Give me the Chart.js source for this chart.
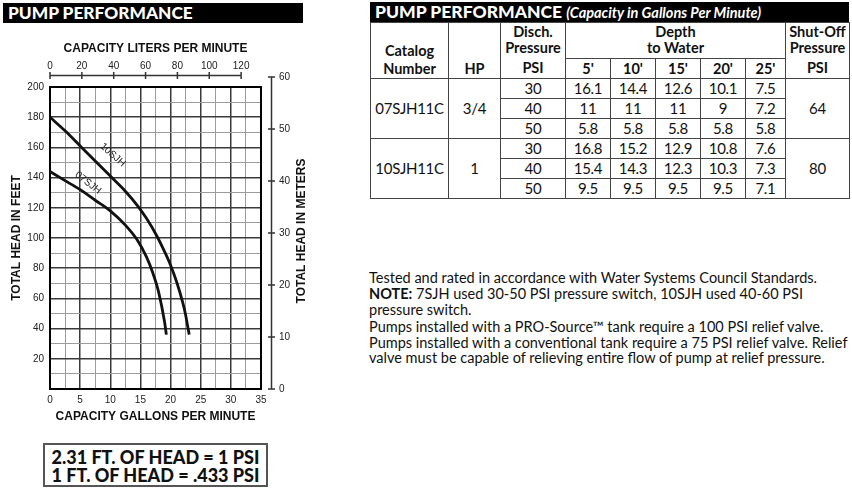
<!DOCTYPE html>
<html>
<head>
<meta charset="utf-8">
<script src="https://cdn.jsdelivr.net/npm/chart.js@4.4.1/dist/chart.umd.min.js"></script>
<style>
  body { margin: 0; width: 852px; height: 493px; background: #fff; position: relative; overflow: hidden; font-family: Lato, "Open Sans", sans-serif; color: #111; }
  .bar { position: absolute; background: #000; color: #fff; font-weight: 900; white-space: nowrap; box-sizing: border-box; }
  #bar-left { left: 3px; top: 3px; width: 300px; height: 20px; font-size: 17.3px; line-height: 20px; padding-left: 5px; }
  #bar-right { left: 370px; top: 2px; width: 479px; height: 20px; font-size: 17.5px; line-height: 20px; padding-left: 5px; }
  #bar-right i { font-size: 14.5px; font-weight: 700; }
  #chart-box { position: absolute; left: 0; top: 0; }
  #perf-table { position: absolute; left: 370px; top: 22px; width: 479px; border-collapse: collapse; table-layout: fixed; text-align: center; }
  #perf-table td { border: 1.5px solid #444; padding: 0; font-size: 15px; height: 19px; line-height: 19px; letter-spacing: -0.3px; }
  #perf-table .hd { font-weight: 700; font-size: 14.5px; vertical-align: bottom; letter-spacing: 0; }
  .notes { position: absolute; left: 369px; font-size: 14.5px; line-height: 15.5px; white-space: nowrap; }
  #conv { position: absolute; left: 43px; top: 443px; width: 225px; height: 44px; box-sizing: border-box; border: 2px solid #555; text-align: center; font-weight: 900; font-size: 18px; line-height: 18px; padding-top: 3px; white-space: nowrap; }
</style>
</head>
<body>
<div class="bar" id="bar-left">PUMP PERFORMANCE</div>
<div id="chart-box"><canvas id="perf-chart" width="310" height="430"></canvas></div>

<div class="bar" id="bar-right">PUMP PERFORMANCE <i>(Capacity in Gallons Per Minute)</i></div>
<table id="perf-table">
  <colgroup>
    <col style="width:78px"><col style="width:52px"><col style="width:65px">
    <col style="width:45px"><col style="width:45px"><col style="width:45px"><col style="width:45px"><col style="width:40px">
    <col style="width:64px">
  </colgroup>
  <thead id="perf-head"></thead>
  <tbody id="perf-body"></tbody>
</table>

<div class="notes" style="top:270px">Tested and rated in accordance with Water Systems Council Standards.</div>
<div class="notes" style="top:286px"><b>NOTE:</b> 7SJH used 30-50 PSI pressure switch, 10SJH used 40-60 PSI<br>pressure switch.</div>
<div class="notes" style="top:319px">Pumps installed with a PRO-Source™ tank require a 100 PSI relief valve.<br>Pumps installed with a conventional tank require a 75 PSI relief valve. Relief<br>valve must be capable of relieving entire flow of pump at relief pressure.</div>

<div id="conv">2.31 FT. OF HEAD = 1 PSI<br>1 FT. OF HEAD = .433 PSI</div>

<script>
// chart data
const gpmTicks = [0, 5, 10, 15, 20, 25, 30, 35];
const feetTicks = [20, 40, 60, 80, 100, 120, 140, 160, 180, 200];
const lpmTicks = [0, 20, 40, 60, 80, 100, 120];
const meterTicks = [0, 10, 20, 30, 40, 50, 60];

const flow07 = [0, 2.5, 5, 7.5, 10, 12.5, 14.5, 16, 17, 18, 19, 19.3];
const head07 = [144, 138, 132, 125, 118, 108.5, 98.5, 87.5, 77.5, 64.5, 44.5, 36];
const flow10 = [0, 2.5, 5, 7.5, 10, 12.5, 14.6, 16, 17.7, 19, 20, 21, 22, 22.5, 22.9, 23.1];
const head10 = [180, 171, 161, 151, 141, 131, 121, 113, 101.5, 91, 82, 71, 57.5, 49, 40, 36];

// table data
const catalogs = ["07SJH11C", "10SJH11C"];
const horsepower = ["3/4", "1"];
const dischPsi = [30, 40, 50];
const depths = ["5'", "10'", "15'", "20'", "25'"];
const gpm07 = [[16.1, 14.4, 12.6, 10.1, 7.5], [11, 11, 11, 9, 7.2], [5.8, 5.8, 5.8, 5.8, 5.8]];
const gpm10 = [[16.8, 15.2, 12.9, 10.8, 7.6], [15.4, 14.3, 12.3, 10.3, 7.3], [9.5, 9.5, 9.5, 9.5, 7.1]];
const shutOff = [64, 80];

// build the table
document.getElementById("perf-head").innerHTML =
  '<tr style="height:36px">' +
  '<td class="hd" rowspan="2"><div style="line-height:18px">Catalog<br>Number</div></td>' +
  '<td class="hd" rowspan="2"><div style="line-height:19px">HP</div></td>' +
  '<td class="hd" rowspan="2"><div style="line-height:16px">Disch.<br>Pressure</div><div style="line-height:20px;margin-top:2px">PSI</div></td>' +
  '<td class="hd" colspan="5"><div style="line-height:16px;padding-bottom:2px">Depth<br>to Water</div></td>' +
  '<td class="hd" rowspan="2"><div style="line-height:16px">Shut-Off<br>Pressure</div><div style="line-height:20px;margin-top:2px">PSI</div></td>' +
  '</tr><tr style="height:20px">' + depths.map(d => '<td class="hd">' + d + '</td>').join("") + '</tr>';

const groups = [gpm07, gpm10];
let rows = "";
catalogs.forEach((cat, gi) => {
  dischPsi.forEach((psi, ri) => {
    rows += '<tr style="height:20px">';
    if (ri === 0) rows += '<td rowspan="3">' + cat + '</td><td rowspan="3">' + horsepower[gi] + '</td>';
    rows += '<td>' + psi + '</td>' + groups[gi][ri].map(v => '<td>' + v + '</td>').join("");
    if (ri === 0) rows += '<td rowspan="3">' + shutOff[gi] + '</td>';
    rows += '</tr>';
  });
});
document.getElementById("perf-body").innerHTML = rows;

// chart
Chart.defaults.font.family = "'Liberation Sans', Arial, sans-serif";
Chart.defaults.color = "#222";

const majorGrid = "#3a3a3a";
const minorGrid = "#9c9c9c";

const curveText = [
  { text: "10SJH", g: 10.4, h: 155, angle: 42 },
  { text: "07SJH", g: 6.3, h: 136.5, angle: 38 },
];

const overlay = {
  id: "overlay",
  afterDraw(chart) {
    const { ctx, chartArea } = chart;
    const { x, y, lpm, m } = chart.scales;
    ctx.save();
    ctx.strokeStyle = "#333";
    ctx.lineWidth = 1.5;
    ctx.beginPath();
    // liters axis floating above the grid
    const ay = chartArea.top - 11.5;
    ctx.moveTo(lpm.getPixelForValue(lpmTicks[0]), ay);
    ctx.lineTo(lpm.getPixelForValue(lpmTicks[lpmTicks.length - 1]), ay);
    lpmTicks.forEach(v => {
      const px = lpm.getPixelForValue(v);
      ctx.moveTo(px, ay - 3.5); ctx.lineTo(px, ay + 3.5);
    });
    // meters axis to the right
    const ax = chartArea.right + 10.5;
    ctx.moveTo(ax, m.getPixelForValue(meterTicks[0]));
    ctx.lineTo(ax, m.getPixelForValue(meterTicks[meterTicks.length - 1]));
    meterTicks.forEach(v => {
      const py = m.getPixelForValue(v);
      ctx.moveTo(ax - 3.5, py); ctx.lineTo(ax + 3.5, py);
    });
    ctx.stroke();

    ctx.fillStyle = "#111";
    ctx.font = "bold 12px 'Liberation Sans', Arial";
    ctx.textAlign = "center";
    ctx.textBaseline = "middle";
    ctx.save();
    ctx.translate(302, (chartArea.top + chartArea.bottom) / 2 - 7);
    ctx.rotate(-Math.PI / 2);
    ctx.fillText("TOTAL HEAD IN METERS", 0, 0);
    ctx.restore();

    ctx.font = "10px 'Liberation Sans', Arial";
    ctx.fillStyle = "#222";
    curveText.forEach(c => {
      ctx.save();
      ctx.translate(x.getPixelForValue(c.g), y.getPixelForValue(c.h));
      ctx.rotate(c.angle * Math.PI / 180);
      ctx.fillText(c.text, 0, 0);
      ctx.restore();
    });
    ctx.restore();
  }
};

new Chart(document.getElementById("perf-chart"), {
  type: "line",
  data: {
    datasets: [
      { label: "10SJH", data: flow10.map((g, i) => ({ x: g, y: head10[i] })), borderColor: "#111", borderWidth: 2.8, pointRadius: 0, cubicInterpolationMode: "monotone", borderCapStyle: "butt", fill: false },
      { label: "07SJH", data: flow07.map((g, i) => ({ x: g, y: head07[i] })), borderColor: "#111", borderWidth: 2.8, pointRadius: 0, cubicInterpolationMode: "monotone", borderCapStyle: "butt", fill: false },
    ],
  },
  options: {
    responsive: false,
    animation: false,
    devicePixelRatio: 1,
    layout: { padding: 0 },
    plugins: { legend: { display: false }, tooltip: { enabled: false } },
    scales: {
      x: {
        type: "linear", position: "bottom", min: 0, max: 35,
        afterFit: s => { s.height = 41; },
        ticks: { stepSize: 2.5, autoSkip: false, maxRotation: 0, padding: 5, font: { size: 10 }, callback: v => gpmTicks.includes(v) ? v : "" },
        grid: { drawTicks: false, color: c => c.tick && c.tick.value % 5 === 0 ? majorGrid : minorGrid, lineWidth: c => c.tick && c.tick.value % 5 === 0 ? 1.5 : 1 },
        border: { display: true, color: "#000", width: 2 },
        title: { display: true, text: "CAPACITY GALLONS PER MINUTE", color: "#111", font: { size: 12, weight: "bold" }, padding: { top: 0, bottom: 6 } },
      },
      lpm: {
        type: "linear", position: "top", min: 0, max: 35 * 3.78541,
        afterFit: s => { s.height = 87; },
        afterBuildTicks: s => { s.ticks = lpmTicks.map(v => ({ value: v })); },
        ticks: { autoSkip: false, maxRotation: 0, padding: 7, font: { size: 10 } },
        grid: { display: false },
        border: { display: true, color: "#000", width: 2 },
        title: { display: true, text: "CAPACITY LITERS PER MINUTE", color: "#111", font: { size: 12, weight: "bold" }, padding: { top: 41, bottom: 0 } },
      },
      y: {
        type: "linear", position: "left", min: 0, max: 200,
        afterFit: s => { s.width = 50; },
        ticks: { stepSize: 10, autoSkip: false, padding: 6, font: { size: 10 }, callback: v => feetTicks.includes(v) ? v : "" },
        grid: { drawTicks: false, color: c => c.tick && c.tick.value % 20 === 0 ? majorGrid : minorGrid, lineWidth: c => c.tick && c.tick.value % 20 === 0 ? 1.5 : 1 },
        border: { display: true, color: "#000", width: 2 },
        title: { display: true, text: "TOTAL HEAD IN FEET", color: "#111", font: { size: 12, weight: "bold" }, padding: { top: 9, bottom: 0 } },
      },
      m: {
        type: "linear", position: "right", min: 0, max: 58.1,
        afterFit: s => { s.width = 49; },
        afterBuildTicks: s => { s.ticks = meterTicks.map(v => ({ value: v })); },
        ticks: { autoSkip: false, padding: 10, font: { size: 10 } },
        grid: { display: false },
        border: { display: true, color: "#000", width: 2 },
      },
    },
  },
  plugins: [overlay],
});
</script>
</body>
</html>
